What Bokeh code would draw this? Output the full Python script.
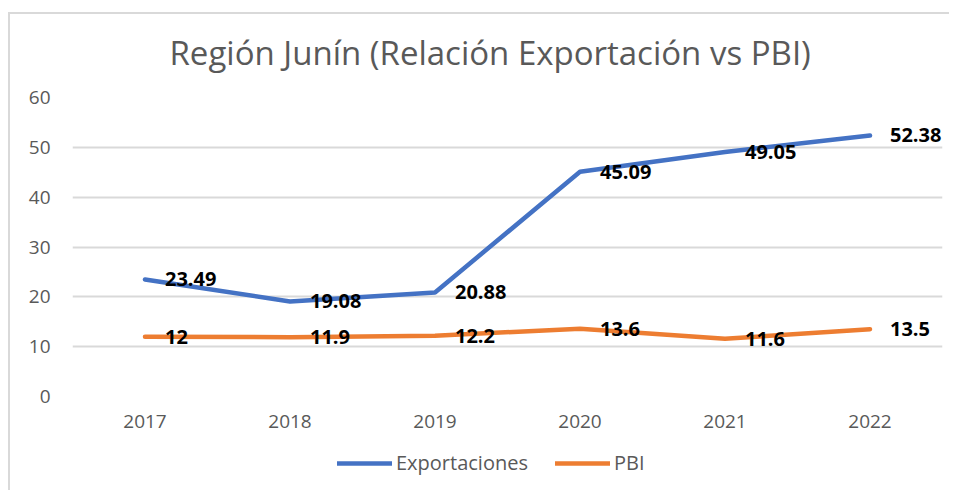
from bokeh.plotting import figure
from bokeh.layouts import column
from bokeh.models import ColumnDataSource, Range1d, FactorRange, Legend, LegendItem, FixedTicker
from bokeh.core.properties import value
from bokeh.embed import file_html
from bokeh.resources import INLINE

# ---- data ----
years = ["2017", "2018", "2019", "2020", "2021", "2022"]
exportaciones = [23.49, 19.08, 20.88, 45.09, 49.05, 52.38]
pbi = [12, 11.9, 12.2, 13.6, 11.6, 13.5]
y_ticks = [0, 10, 20, 30, 40, 50, 60]
title_text = "Región Junín (Relación Exportación vs PBI)"
series_names = ["Exportaciones", "PBI"]

BLUE = "#4472C4"
ORANGE = "#ED7D31"
GRAY = "#595959"
GRID = "#D9D9D9"
FONT = "Open Sans"

p = figure(
    width=939, height=441,
    x_range=FactorRange(*years, range_padding=0),
    y_range=Range1d(0, 60),
    output_backend="svg", toolbar_location=None,
    min_border_left=62, min_border_right=7, min_border_top=81, min_border_bottom=50,
)
p.outline_line_color = None
p.background_fill_color = "white"
p.border_fill_color = None
p.styles = {"margin-top": "-9px"}

# title
p.title.text = title_text
p.title.align = "left"
p.title.offset = 97
p.title.standoff = 45
p.title.text_font = FONT
p.title.text_font_size = "33px"
p.title.text_font_style = "normal"
p.title.text_color = GRAY

# axes
p.xaxis.axis_line_color = None
p.yaxis.axis_line_color = None
p.xaxis.major_tick_line_color = None
p.yaxis.major_tick_line_color = None
p.xaxis.minor_tick_line_color = None
p.yaxis.minor_tick_line_color = None
p.xaxis.major_tick_out = 0
p.yaxis.major_tick_out = 0
p.xaxis.major_tick_in = 0
p.yaxis.major_tick_in = 0
p.yaxis.ticker = FixedTicker(ticks=y_ticks)
for ax in (p.xaxis, p.yaxis):
    ax.major_label_text_font = FONT
    ax.major_label_text_font_size = "19px"
    ax.major_label_text_color = GRAY
p.yaxis.major_label_standoff = 22
p.xaxis.major_label_standoff = 18

p.xgrid.grid_line_color = None
p.ygrid.grid_line_color = GRID
p.ygrid.grid_line_width = 2

src_e = ColumnDataSource(dict(x=years, y=exportaciones, t=[f"{v:g}" for v in exportaciones]))
src_p = ColumnDataSource(dict(x=years, y=pbi, t=[f"{v:g}" for v in pbi]))

p.line("x", "y", source=src_e, line_color=BLUE, line_width=4.5, line_cap="round", line_join="round")
p.line("x", "y", source=src_p, line_color=ORANGE, line_width=4.5, line_cap="round", line_join="round")

for src in (src_e, src_p):
    p.text("x", "y", text="t", source=src, x_offset=20, text_align="left", text_baseline="middle",
           text_font=value(FONT), text_font_size="20px", text_font_style="bold", text_color="black")

# legend strip below the chart (same series drawn out of view; only the legend shows)
lg = figure(width=939, height=44, x_range=FactorRange(*years, range_padding=0), y_range=Range1d(100, 101),
            x_axis_type=None, y_axis_type=None, output_backend="svg", toolbar_location=None,
            min_border_left=0, min_border_right=0, min_border_top=0, min_border_bottom=0)
lg.outline_line_color = None
lg.xgrid.grid_line_color = None
lg.ygrid.grid_line_color = None
lg.border_fill_color = "white"
le = lg.line("x", "y", source=src_e, line_color=BLUE, line_width=4.5, line_cap="round")
lp = lg.line("x", "y", source=src_p, line_color=ORANGE, line_width=4.5, line_cap="round")
legend = Legend(
    items=[LegendItem(label=series_names[0], renderers=[le]), LegendItem(label=series_names[1], renderers=[lp])],
    orientation="horizontal", location=(265, 14),
    glyph_width=55, glyph_height=20, label_standoff=4, spacing=27, padding=0, margin=0,
    label_text_font=FONT, label_text_font_size="20px", label_text_color=GRAY,
    border_line_color=None, background_fill_alpha=0,
)
lg.add_layout(legend, "center")

layout = column(p, lg, spacing=0)
layout.styles = {"border-left": f"2px solid {GRID}", "border-top": f"2px solid {GRID}",
                 "margin-top": "12px", "margin-left": "8px"}

open("out.html", "w").write(file_html(layout, INLINE))
